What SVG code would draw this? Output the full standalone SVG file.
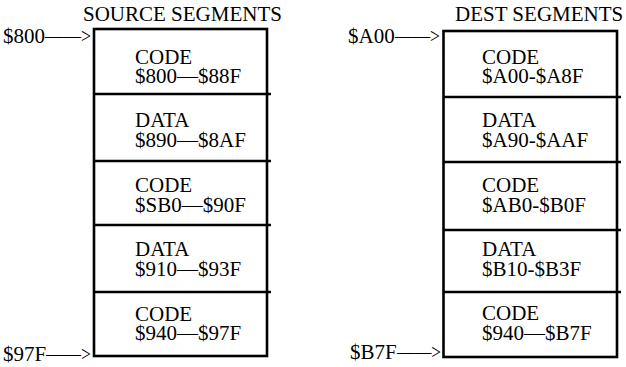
<svg xmlns="http://www.w3.org/2000/svg" width="626" height="367" viewBox="0 0 626 367">
<style>
text{font-family:"Liberation Serif","Times New Roman",serif;font-size:21px;fill:#000}
.box{fill:#fff;stroke:#000;stroke-width:2.6}
.div{stroke:#000;stroke-width:2.6}
</style>
<rect width="626" height="367" fill="#fff"/>
<g id="source">
<text x="83" y="21">SOURCE SEGMENTS</text>
<rect class="box" x="94" y="29" width="173" height="327"/>
<g id="src-seg1"><text x="135" y="64">CODE</text><text x="135" y="83">$800—$88F</text></g>
<line class="div" x1="94" y1="94" x2="271" y2="94"/>
<g id="src-seg2"><text x="135" y="127">DATA</text><text x="135" y="147">$890—$8AF</text></g>
<line class="div" x1="94" y1="161" x2="271" y2="161"/>
<g id="src-seg3"><text x="135" y="192">CODE</text><text x="135" y="212">$SB0—$90F</text></g>
<line class="div" x1="94" y1="225" x2="271" y2="225"/>
<g id="src-seg4"><text x="135" y="256">DATA</text><text x="135" y="276">$910—$93F</text></g>
<line class="div" x1="94" y1="292" x2="271" y2="292"/>
<g id="src-seg5"><text x="135" y="321">CODE</text><text x="135" y="340">$940—$97F</text></g>
</g>
<g id="dest">
<text x="455" y="21">DEST SEGMENTS</text>
<rect class="box" x="443.5" y="31" width="173.5" height="326"/>
<g id="dst-seg1"><text x="482" y="64">CODE</text><text x="482" y="83">$A00-$A8F</text></g>
<line class="div" x1="443.5" y1="97" x2="621" y2="97"/>
<g id="dst-seg2"><text x="482" y="127">DATA</text><text x="482" y="147">$A90-$AAF</text></g>
<line class="div" x1="443.5" y1="162" x2="621" y2="162"/>
<g id="dst-seg3"><text x="482" y="192">CODE</text><text x="482" y="212">$AB0-$B0F</text></g>
<line class="div" x1="443.5" y1="230" x2="621" y2="230"/>
<g id="dst-seg4"><text x="482" y="256">DATA</text><text x="482" y="276">$B10-$B3F</text></g>
<line class="div" x1="443.5" y1="292" x2="621" y2="292"/>
<g id="dst-seg5"><text x="482" y="320">CODE</text><text x="482" y="340">$940—$B7F</text></g>
</g>
<g id="connectors">
<text x="3" y="43">$800</text><text x="45" y="43" textLength="46" lengthAdjust="spacingAndGlyphs">——&gt;</text>
<text x="3" y="361">$97F</text><text x="46" y="361" textLength="45" lengthAdjust="spacingAndGlyphs">——&gt;</text>
<text x="348" y="43">$A00</text><text x="395" y="43" textLength="45" lengthAdjust="spacingAndGlyphs">——&gt;</text>
<text x="350" y="359">$B7F</text><text x="397" y="359" textLength="44" lengthAdjust="spacingAndGlyphs">——&gt;</text>
</g>
</svg>
